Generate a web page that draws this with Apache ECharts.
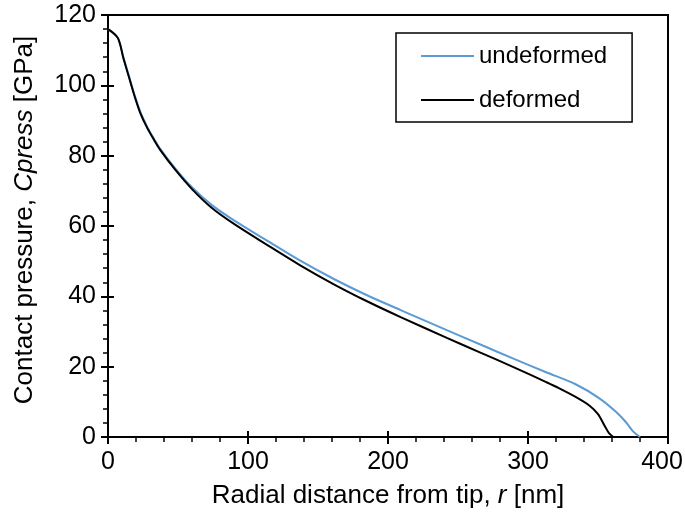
<!DOCTYPE html>
<html>
<head>
<meta charset="utf-8">
<script src="https://cdn.jsdelivr.net/npm/echarts@6/dist/echarts.min.js"></script>
<style>html,body{margin:0;padding:0;background:#fff}#c{width:685px;height:521px}</style>
</head>
<body>
<div id="c"></div>
<script>
var seriesNames = ['undeformed', 'deformed'];
var undeformed = [[0,116],[7,113.5],[11,108],[15,102.6],[19,97.2],[23,92.5],[28,88.2],[33,84.7],[37,82.1],[48,76.4],[60,71],[74,66],[90,61.6],[113,56],[137,50.2],[161,45],[185,40.3],[209,36.1],[242,30.4],[266,26.3],[290,22.2],[313,18.4],[334,15],[351,11],[363,7.1],[370,4.2],[375,1.6],[380,0]];
var deformed = [[0,116],[7,113.5],[11,107.7],[15,102.3],[19,96.9],[23,92.2],[28,87.9],[33,84.4],[37,81.8],[48,76],[60,70.5],[74,65.2],[90,60.6],[113,54.8],[137,48.9],[161,43.5],[185,38.6],[209,34.1],[242,28.2],[266,24],[290,19.8],[313,15.6],[322,13.9],[334,11.4],[344,8.9],[350,6.5],[355,3],[358,1],[361,0]];
var xTicks = {min: 0, max: 400, interval: 100};
var yTicks = {min: 0, max: 120, interval: 20};

var FONT = '"Liberation Sans", Arial, sans-serif';
var FS_LABEL = 25, FS_TITLE = 26, FS_LEGEND = 24;
var chart = echarts.init(document.getElementById('c'), null, {renderer: 'canvas'});
function baseAxis(t) {
  return {
    type: 'value', min: t.min, max: t.max, interval: t.interval,
    splitLine: {show: false}
  };
}
function richName() {
  return {rich: {
    a: {fontSize: FS_TITLE, fontFamily: FONT, color: '#000'},
    i: {fontSize: FS_TITLE, fontFamily: FONT, color: '#000', fontStyle: 'italic'}
  }};
}
var xMain = Object.assign(baseAxis(xTicks), {
  position: 'bottom',
  axisLine: {show: true, lineStyle: {color: '#000', width: 2}},
  axisTick: {show: true, inside: false, length: 7, lineStyle: {color: '#000', width: 2}},
  minorTick: {show: true, splitNumber: 5, length: 5, lineStyle: {color: '#000', width: 1.5}},
  axisLabel: {
    color: '#000', fontSize: FS_LABEL, fontFamily: FONT, margin: 13,
    formatter: function (v) { return v === xTicks.max ? '{m|' + v + '}' : String(v); },
    rich: {m: {fontSize: FS_LABEL, fontFamily: FONT, color: '#000', padding: [0, 12, 0, 0]}}
  },
  name: '{a|Radial distance from tip, }{i|r}{a| [nm]}',
  nameLocation: 'middle', nameGap: 46,
  nameTextStyle: richName()
});
var xInner = Object.assign(baseAxis(xTicks), {
  position: 'bottom',
  axisLine: {show: false},
  axisTick: {show: true, inside: true, length: 6, lineStyle: {color: '#000', width: 2}},
  axisLabel: {show: false}
});
var yMain = Object.assign(baseAxis(yTicks), {
  position: 'left',
  axisLine: {show: true, lineStyle: {color: '#000', width: 2}},
  axisTick: {show: true, inside: false, length: 7, lineStyle: {color: '#000', width: 2}},
  minorTick: {show: true, splitNumber: 5, length: 5, lineStyle: {color: '#000', width: 1.5}},
  axisLabel: {color: '#000', fontSize: FS_LABEL, fontFamily: FONT, margin: 12},
  name: '{a|Contact pressure, }{i|Cpress}{a| [GPa]}',
  nameLocation: 'middle', nameGap: 70, nameRotate: 90,
  nameTextStyle: Object.assign(richName(), {padding: [0, 0, 0, 12]})
});
var yInner = Object.assign(baseAxis(yTicks), {
  position: 'left',
  axisLine: {show: false},
  axisTick: {show: true, inside: true, length: 6, lineStyle: {color: '#000', width: 2}},
  axisLabel: {show: false}
});

chart.setOption({
  animation: false,
  backgroundColor: '#fff',
  grid: {left: 108, right: 17, top: 15, bottom: 84, containLabel: false, outerBoundsMode: 'none',
         show: true, borderColor: '#000', borderWidth: 2, backgroundColor: 'transparent'},
  xAxis: [xMain, xInner],
  yAxis: [yMain, yInner],
  legend: {
    orient: 'vertical', left: 396, top: 33,
    backgroundColor: '#fff', borderColor: '#000', borderWidth: 1.5,
    padding: [11, 25, 10, 25],
    itemWidth: 53, itemHeight: 2, itemGap: 20,
    icon: 'rect',
    textStyle: {fontSize: FS_LEGEND, fontFamily: FONT, color: '#000'},
    data: seriesNames
  },
  series: [
    {name: seriesNames[0], type: 'line', data: undeformed, symbol: 'none', smooth: 0.3,
     lineStyle: {color: '#5B9BD5', width: 2}, itemStyle: {color: '#5B9BD5'}, z: 2},
    {name: seriesNames[1], type: 'line', data: deformed, symbol: 'none', smooth: 0.3,
     lineStyle: {color: '#000', width: 2}, itemStyle: {color: '#000'}, z: 3}
  ]
});
</script>
</body>
</html>
